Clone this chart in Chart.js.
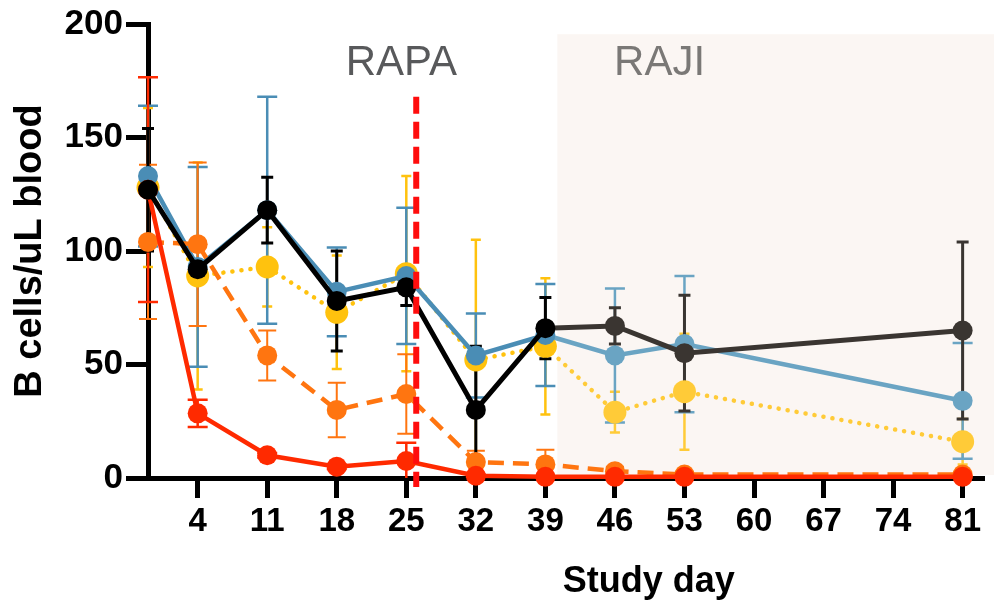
<!DOCTYPE html>
<html>
<head>
<meta charset="utf-8">
<script src="https://cdn.jsdelivr.net/npm/chart.js@4.4.1/dist/chart.umd.min.js"></script>
<style>
  html, body { margin: 0; padding: 0; background: #fff; }
  #wrap { width: 994px; height: 603px; position: relative; }
</style>
</head>
<body>
<div id="wrap"><canvas id="c" width="994" height="603"></canvas></div>
<script>
// ---- data ----
const days = [-1, 4, 11, 18, 25, 32, 39, 46, 53, 81];
const xTickLabels = [4, 11, 18, 25, 32, 39, 46, 53, 60, 67, 74, 81];
const yTickLabels = [0, 50, 100, 150, 200];

const blackVals   = [127, 92, 118, 78, 84, 30, 66, 67, 55, 65];
const blackErr    = [27, 3, 14.5, 22, 8, 28, 13.5, 8, 25.5, 39];
const blueVals    = [133, 93, 118, 82, 89, 54, 63, 54, 59, 34];
const blueErr     = [31, 44, 50, 19.5, 30, 18.5, 22.5, 29.5, 30, 25.5];
const yellowVals  = [128, 89, 93, 73, 90, 52, 58, 29, 38, 16];
const yellowErr   = [35, 50, 17.5, 25, 43, 53, 30, 9, 25.5, 10];
const orangeVals  = [104, 103, 54, 30, 37, 7, 6, 3, 1.5, 1.5];
const orangeErr   = [34, 36, 11, 12, 17.5, 5, 6.5, 2, 1, 1];
const redVals     = [127, 28.5, 10, 5, 7.5, 1, 0.5, 0.5, 0.5, 0.5];
const redErr      = [49.5, 6, 1, 1, 8, 0.5, 0.3, 0.3, 0.3, 0.3];

const rapaDay = 26;        // vertical dashed line
const rajiStart = 40;      // shaded phase start
const rajiLateDay = 46;    // points from here drawn lighter
const rapaLabel = 'RAPA';
const rajiLabel = 'RAJI';
const xTitle = 'Study day';
const yTitle = 'B cells/uL blood';

// ---- styles ----
const FONT = '"Liberation Sans", Arial, sans-serif';
const NARROW = '"Liberation Sans Narrow", "Arial Narrow", "Liberation Sans", sans-serif';
function pts(vals) { return days.map((d, i) => ({ x: d, y: vals[i] })); }
function twoTone(early, late, fromDay) {
  return ctx => (ctx.parsed && ctx.parsed.x >= fromDay) ? late : early;
}

const C = {
  black: ['#000000', '#3a3531'],
  blue: ['#4a8db5', '#6aa4c3'],
  yellow: ['#ffc20e', '#ffcb38'],
  orange: ['#ff7510', '#ff7510'],
  red: ['#ff2a00', '#ff2a00']
};

function mkDs(label, vals, errs, col, opts) {
  return Object.assign({
    label, data: pts(vals), errs, col,
    borderColor: col[0],
    backgroundColor: col[0],
    pointBackgroundColor: twoTone(col[0], col[1], rajiLateDay),
    pointBorderColor: twoTone(col[0], col[1], rajiLateDay),
    pointBorderWidth: 0,
    pointRadius: 10,
    pointHoverRadius: 10,
    borderWidth: 4.5,
    tension: 0,
    clip: false,
    segment: { borderColor: ctx => ctx.p0.parsed.x >= 39 ? col[1] : col[0] },
    capHalf: 10, errWidth: 2.5
  }, opts || {});
}

const datasets = [
  mkDs('black', blackVals, blackErr, C.black, { borderWidth: 5, capHalf: 6, errWidth: 3 }),
  mkDs('red', redVals, redErr, C.red, { capHalf: 10 }),
  mkDs('orange', orangeVals, orangeErr, C.orange, { borderDash: [16, 9], capHalf: 9, errWidth: 2 }),
  mkDs('blue', blueVals, blueErr, C.blue, { capHalf: 10 }),
  mkDs('yellow', yellowVals, yellowErr, C.yellow, { borderDash: [0.1, 9], borderCapStyle: 'round', borderWidth: 4.5, pointRadius: 11.5, pointHoverRadius: 11.5, capHalf: 5 })
];

const errorBars = {
  id: 'errorBars',
  beforeDraw(chart) {
    // shaded RAJI phase
    const { ctx, scales: { x, y } } = chart;
    const x0 = x.getPixelForValue(rajiStart) + 2;
    const top = y.getPixelForValue(195.5);
    const bot = y.getPixelForValue(0) - 3;
    ctx.save();
    ctx.fillStyle = '#fbf6f3';
    ctx.fillRect(x0, top, chart.width - x0, bot - top);
    ctx.restore();
  },
  beforeDatasetsDraw(chart) {
    const { ctx, scales: { x, y } } = chart;
    ctx.save();
    for (let di = chart.data.datasets.length - 1; di >= 0; di--) {
      const ds = chart.data.datasets[di];
      ds.data.forEach((p, i) => {
        const e = ds.errs[i];
        const col = p.x >= rajiLateDay ? ds.col[1] : ds.col[0];
        const px = x.getPixelForValue(p.x);
        const yt = y.getPixelForValue(p.y + e);
        const yb = y.getPixelForValue(Math.max(p.y - e, 0));
        ctx.strokeStyle = col;
        ctx.lineWidth = ds.errWidth;
        ctx.setLineDash([]);
        ctx.beginPath();
        ctx.moveTo(px, yt); ctx.lineTo(px, yb);
        ctx.moveTo(px - ds.capHalf, yt); ctx.lineTo(px + ds.capHalf, yt);
        if (p.y - e > 0) { ctx.moveTo(px - ds.capHalf, yb); ctx.lineTo(px + ds.capHalf, yb); }
        ctx.stroke();
      });
    }
    ctx.restore();
  },
  afterDatasetsDraw(chart) {
    const { ctx, scales: { x, y } } = chart;
    ctx.save();
    // RAPA vertical dashed line
    const lx = x.getPixelForValue(rapaDay);
    ctx.strokeStyle = '#ff0d0d';
    ctx.lineWidth = 6;
    ctx.setLineDash([17, 8]);
    ctx.beginPath();
    ctx.moveTo(lx, y.getPixelForValue(168));
    ctx.lineTo(lx, y.getPixelForValue(-4));
    ctx.stroke();
    ctx.setLineDash([]);
    // phase labels
    ctx.font = '42px ' + FONT;
    ctx.textAlign = 'center';
    ctx.textBaseline = 'alphabetic';
    ctx.fillStyle = '#58595b';
    ctx.fillText(rapaLabel, x.getPixelForValue(24.5), y.getPixelForValue(177.6));
    ctx.fillStyle = '#7a7876';
    ctx.fillText(rajiLabel, x.getPixelForValue(50.5), y.getPixelForValue(177.6));
    // x axis title
    ctx.fillStyle = '#000';
    ctx.font = 'bold 36px ' + FONT;
    ctx.fillText(xTitle, x.getPixelForValue(49.4), 592);
    ctx.restore();
  }
};

new Chart(document.getElementById('c'), {
  type: 'line',
  data: { datasets },
  plugins: [errorBars],
  options: {
    responsive: false,
    animation: false,
    events: [],
    layout: { padding: { top: 22, right: 9, left: 0, bottom: 0 } },
    plugins: { legend: { display: false }, tooltip: { enabled: false } },
    scales: {
      x: {
        type: 'linear', min: -1, max: 83,
        afterBuildTicks: axis => { axis.ticks = xTickLabels.map(v => ({ value: v })); },
        afterFit: s => { s.height = 125; },
        border: { color: '#000', width: 5 },
        grid: { drawOnChartArea: false, drawTicks: true, tickLength: 20, lineWidth: 5, color: '#000' },
        ticks: { color: '#000', font: { family: NARROW, size: 33, weight: 'bold' }, padding: 4, maxRotation: 0, autoSkip: false },
        title: { display: false }
      },
      y: {
        min: 0, max: 200,
        afterBuildTicks: axis => { axis.ticks = yTickLabels.map(v => ({ value: v })); },
        afterFit: s => { s.width = 148; },
        border: { color: '#000', width: 5 },
        grid: { drawOnChartArea: false, drawTicks: true, tickLength: 22, lineWidth: 5, color: '#000' },
        ticks: { color: '#000', font: { family: NARROW, size: 35, weight: 'bold' }, padding: 3 },
        title: { display: true, text: yTitle, color: '#000', font: { family: FONT, size: 38, weight: 'bold' }, padding: { top: 8, bottom: 0 } }
      }
    }
  }
});
</script>
</body>
</html>
